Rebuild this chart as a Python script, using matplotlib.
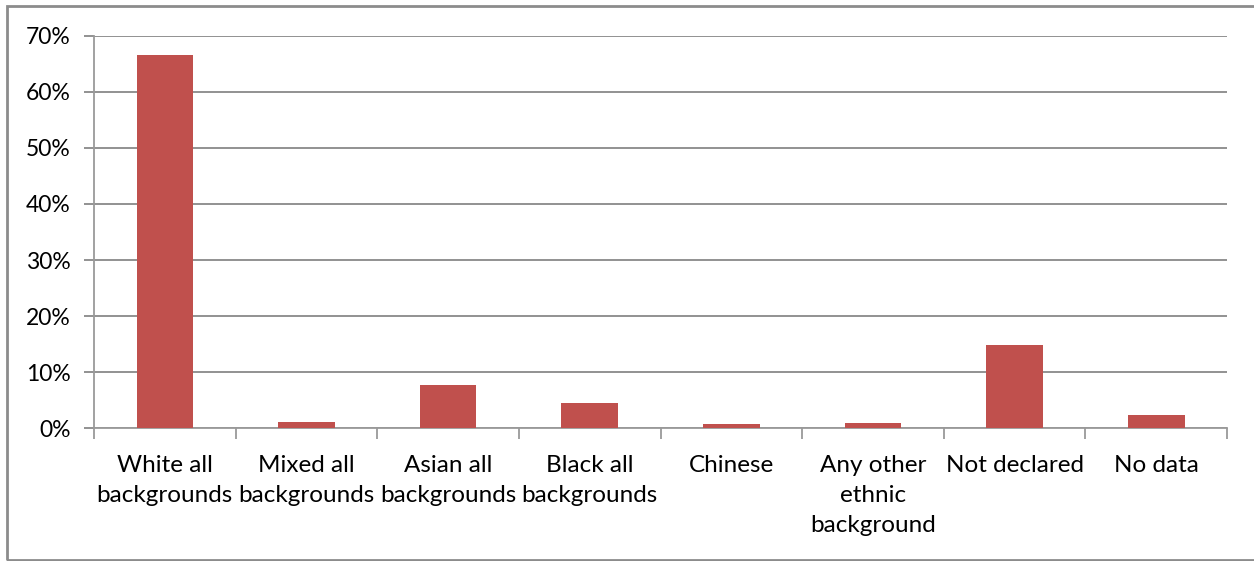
import matplotlib.pyplot as plt
from matplotlib.patches import Rectangle
from matplotlib.ticker import FuncFormatter, FixedLocator
import numpy as np

# Ethnicity breakdown (share of total)
categories = ['White all\nbackgrounds', 'Mixed all\nbackgrounds', 'Asian all\nbackgrounds',
              'Black all\nbackgrounds', 'Chinese', 'Any other\nethnic\nbackground',
              'Not declared', 'No data']
shares = [66.5, 1.2, 7.8, 4.6, 0.7, 0.95, 14.9, 2.3]
yticks = [0, 10, 20, 30, 40, 50, 60, 70]

BAR_COLOR = '#C0504D'
GRID_COLOR = '#898989'
AXIS_COLOR = '#9A9A9A'

plt.rcParams['font.family'] = ['Lato', 'DejaVu Sans']

fig = plt.figure(figsize=(12.54, 5.61), dpi=100)
ax = fig.add_axes([0.075, 0.2365, 0.9035, 0.6999])

x = np.arange(len(categories))
ax.bar(x, shares, width=0.4, color=BAR_COLOR, zorder=3)

ax.set_xlim(-0.5, len(categories) - 0.5)
ax.set_ylim(0, 70)
ax.set_yticks(yticks)
ax.yaxis.set_major_formatter(FuncFormatter(lambda v, p: f'{int(v)}%'))
ax.yaxis.grid(True, color=GRID_COLOR, linewidth=1.3, zorder=0)

# category labels centred, tick marks on the boundaries
ax.set_xticks(x)
ax.set_xticklabels(categories, fontsize=17.5, linespacing=1.55)
ax.xaxis.set_minor_locator(FixedLocator(np.arange(-0.5, len(categories), 1.0)))
ax.tick_params(axis='x', which='major', length=0, pad=19)
ax.tick_params(axis='x', which='minor', length=8, width=1.3, color=AXIS_COLOR)
ax.tick_params(axis='y', length=7, width=1.3, color=GRID_COLOR, labelsize=16.5, pad=10)

for side in ['top', 'right']:
    ax.spines[side].set_visible(False)
ax.spines['left'].set_color(AXIS_COLOR)
ax.spines['bottom'].set_color(AXIS_COLOR)
ax.spines['left'].set_linewidth(1.3)
ax.spines['bottom'].set_linewidth(1.3)

# outer chart frame
fig.patches.append(Rectangle((7 / 1254, 1 / 561), 1.1, 1 - 7 / 561, transform=fig.transFigure,
                             fill=False, edgecolor='#8C8C8C', linewidth=2))

fig.savefig('out.png', dpi=100)
